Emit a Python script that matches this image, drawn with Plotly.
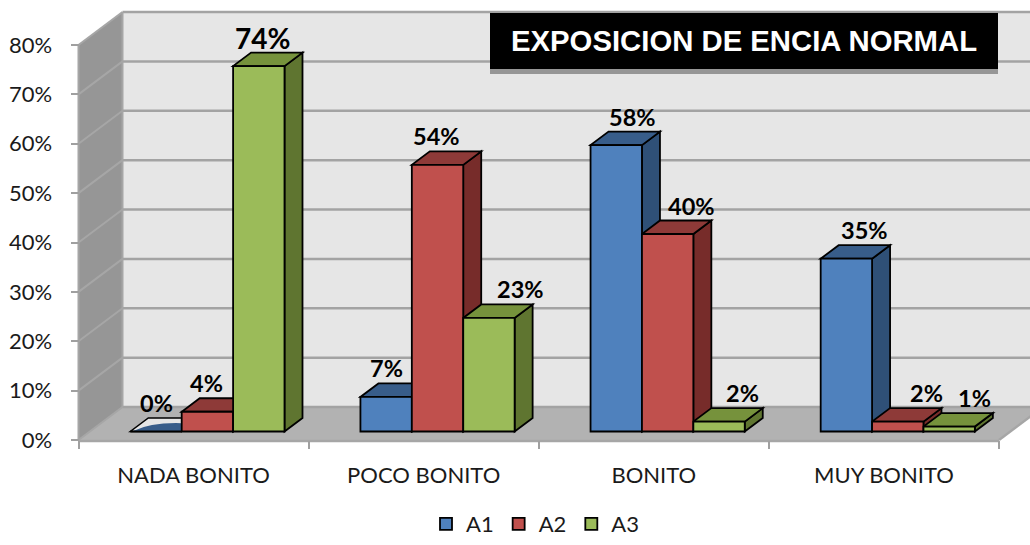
import plotly.graph_objects as go

# ---- data ----
CATEGORIES = ["NADA BONITO", "POCO BONITO", "BONITO", "MUY BONITO"]
SERIES = ["A1", "A2", "A3"]
A1 = [0, 7, 58, 35]
A2 = [4, 54, 40, 2]
A3 = [74, 23, 2, 1]
Y_TICKS = [0, 10, 20, 30, 40, 50, 60, 70, 80]
TITLE = "EXPOSICION DE ENCIA NORMAL"

# ---- styles ----
FRONT = ["#4f81bd", "#c0504d", "#9bbb59"]
TOP = ["#385d8a", "#8e3a38", "#76923c"]
SIDE = ["#2f5077", "#772c2a", "#5f7530"]
LABEL_FONT = "Lato"
LABEL_DX = [[0, -1, 4], [0, -1, 32], [16, 24, 23.5], [18, 29, 25]]   # label shift per bar (px)
LABEL_SIZE = [[23.5, 23.5, 28], [23.5, 23.5, 23.5], [23.5, 23.5, 23.5], [23.5, 23.5, 23.5]]

W, H = 1030, 545
X0, X4, Y0, Y80 = 78.5, 999.0, 440.0, 45.0      # pixel frame of the front axes
UX = (X4 - X0) / 4                              # px per category
UY = (Y0 - Y80) / 80                            # px per percent
WALL_DX, WALL_DY = 44 / UX, 33 / UY             # depth of the chart box
BAR_DX, BAR_DY = 18 / UX, 13.5 / UY             # depth of a bar
BASE = 8.5 / UY                                 # bar plane above the front edge
BAR_W = 51.4 / UX
BAR_START = 51.8 / UX

BACK_R = 4 + WALL_DX
BACK_TOP = 80 + WALL_DY


def poly(pts):
    return "M" + " L".join(f"{x:.4f},{y:.4f}" for x, y in pts) + " Z"


shapes = []


def add(path, fill, line="rgba(0,0,0,0)", width=0):
    shapes.append(dict(type="path", path=path, xref="x", yref="y", layer="below",
                       fillcolor=fill, line=dict(color=line, width=width)))


def seg(p, q, color, width):
    shapes.append(dict(type="line", xref="x", yref="y", layer="below",
                       x0=p[0], y0=p[1], x1=q[0], y1=q[1],
                       line=dict(color=color, width=width)))


# walls and floor
add(poly([(WALL_DX, WALL_DY), (BACK_R, WALL_DY), (BACK_R, BACK_TOP), (WALL_DX, BACK_TOP)]), "#e6e6e6")
add(poly([(0, 0), (WALL_DX, WALL_DY), (WALL_DX, BACK_TOP), (0, 80)]), "#969696")
add(poly([(0, 0), (4, 0), (BACK_R, WALL_DY), (WALL_DX, WALL_DY)]), "#b2b2b2")
for t in Y_TICKS:
    seg((0, t), (WALL_DX, t + WALL_DY), "#a6a6a6", 2)
    seg((WALL_DX, t + WALL_DY), (BACK_R, t + WALL_DY), "#a3a3a3", 2.5)
seg((0, 0), (0, 80), "#a6a6a6", 2)
seg((0, -0.2), (4, -0.2), "#a6a6a6", 2.5)
seg((4, 0), (BACK_R, WALL_DY), "#a6a6a6", 2.5)
seg((WALL_DX, WALL_DY), (WALL_DX, BACK_TOP), "#a6a6a6", 2)

all_series = [A1, A2, A3]


def bar_left(cat, s):
    return cat + BAR_START + s * BAR_W


# 3D faces of the bars, computed from the values
for c in range(len(CATEGORIES)):
    for s, vals in enumerate(all_series):
        v = vals[c]
        l = bar_left(c, s)
        r = l + BAR_W
        b = BASE
        t = BASE + v
        if v > 0:
            add(poly([(r, b), (r + BAR_DX, b + BAR_DY), (r + BAR_DX, t + BAR_DY), (r, t)]),
                SIDE[s], "#000000", 1.8)
            add(poly([(l, t), (r, t), (r + BAR_DX, t + BAR_DY), (l + BAR_DX, t + BAR_DY)]),
                TOP[s], "#000000", 1.8)
        else:
            add(poly([(l, t), (r, t), (r + BAR_DX, t + BAR_DY), (l + BAR_DX, t + BAR_DY)]),
                "#e6e6e6", "#000000", 1.5)
            hump = BAR_DY * 0.62
            add(f"M{l + 0.012:.4f},{t + 0.1:.4f} Q{l + 0.09:.4f},{t + hump * 1.1:.4f} "
                f"{r - 0.002:.4f},{t + hump:.4f} L{r - 0.002:.4f},{t + 0.1:.4f} Z", TOP[s])

fig = go.Figure()
for s, vals in enumerate(all_series):
    fig.add_trace(go.Bar(
        name=SERIES[s],
        x=[bar_left(c, s) + BAR_W / 2 for c in range(len(CATEGORIES))],
        y=vals,
        base=[BASE] * len(vals),
        width=BAR_W,
        marker=dict(color=FRONT[s], line=dict(color="#000000", width=1.8)),
    ))

annotations = []
for c in range(len(CATEGORIES)):
    for s, vals in enumerate(all_series):
        annotations.append(dict(
            x=bar_left(c, s) + BAR_W / 2, y=BASE + vals[c], xref="x", yref="y",
            text=f"{vals[c]}%", showarrow=False, xanchor="center", yanchor="middle",
            xshift=LABEL_DX[c][s], yshift=28.5,
            font=dict(family=LABEL_FONT, size=LABEL_SIZE[c][s], color="#000000", weight="bold"),
        ))

# title box
BOX = (490, 998, 13, 69)
shapes.append(dict(type="rect", xref="paper", yref="paper", layer="above",
                   x0=BOX[0] / W, x1=BOX[1] / W, y0=1 - (BOX[3] + 5) / H, y1=1 - BOX[3] / H,
                   fillcolor="#969696", line=dict(width=0)))
shapes.append(dict(type="rect", xref="paper", yref="paper", layer="above",
                   x0=BOX[0] / W, x1=BOX[1] / W, y0=1 - BOX[3] / H, y1=1 - BOX[2] / H,
                   fillcolor="#000000", line=dict(width=0)))
annotations.append(dict(x=(BOX[0] + BOX[1]) / 2 / W, y=1 - 40 / H, xref="paper", yref="paper",
                        text=TITLE, showarrow=False, xanchor="center", yanchor="middle",
                        font=dict(family="Liberation Sans", size=29.3, color="#ffffff", weight="bold")))

fig.update_layout(
    width=W, height=H, margin=dict(l=0, r=0, t=0, b=0, autoexpand=False), autosize=False,
    paper_bgcolor="#ffffff", plot_bgcolor="#ffffff",
    barmode="overlay", showlegend=True, shapes=shapes, annotations=annotations,
    font=dict(family=LABEL_FONT, size=22, color="#1a1a1a"),
    legend=dict(orientation="h", x=535 / W, xanchor="center",
                y=0, yanchor="bottom",
                font=dict(family=LABEL_FONT, size=22, color="#1a1a1a"), bgcolor="rgba(0,0,0,0)",
                traceorder="normal"),
    xaxis=dict(domain=[0, 1], range=[-X0 / UX, (W - X0) / UX], anchor="free",
               position=1 - Y0 / H, showgrid=False, zeroline=False, showline=False,
               tickmode="array", tickvals=[c + 0.5 for c in range(len(CATEGORIES))],
               ticktext=CATEGORIES, ticks="", ticklabelstandoff=20,
               tickfont=dict(family=LABEL_FONT, size=22, color="#1a1a1a"),
               minor=dict(tickmode="array", tickvals=list(range(len(CATEGORIES) + 1)),
                          ticks="outside", ticklen=8, tickwidth=2, tickcolor="#a0a0a0", showgrid=False)),
    yaxis=dict(domain=[0, 1], range=[-(H - Y0) / UY, Y0 / UY], anchor="free",
               position=X0 / W, showgrid=False, zeroline=False, showline=False,
               tickmode="array", tickvals=Y_TICKS, ticktext=[f"{t}%" for t in Y_TICKS],
               ticks="outside", ticklen=8, tickwidth=2, tickcolor="#a0a0a0", ticklabelstandoff=14,
               tickfont=dict(family=LABEL_FONT, size=22, color="#1a1a1a")),
)

fig.write_html("out.html", config={"displayModeBar": False},
               post_script="document.body.style.margin='0';document.body.style.overflow='hidden';")
